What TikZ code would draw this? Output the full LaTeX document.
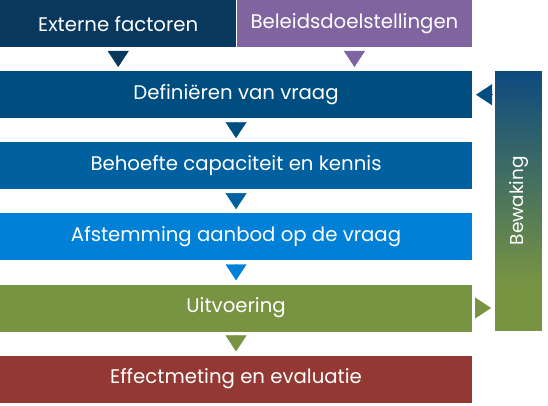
\documentclass[tikz,border=0pt]{standalone}
\usepackage{fontspec}
\setmainfont{Poppins}
\usetikzlibrary{positioning,arrows.meta}
\definecolor{navy}{HTML}{08385E}
\definecolor{paars}{HTML}{8064A0}
\definecolor{defblauw}{HTML}{004D80}
\definecolor{behblauw}{HTML}{0060A0}
\definecolor{afsblauw}{HTML}{0080D6}
\definecolor{groen}{HTML}{789442}
\definecolor{rood}{HTML}{933832}
\definecolor{bewblauw}{HTML}{0D4A80}
\pgfdeclareverticalshading{bewshade}{100bp}{color(0bp)=(groen); color(34bp)=(groen); color(75bp)=(bewblauw); color(100bp)=(bewblauw)}
\tikzset{
  box/.style={minimum width=471.7pt, minimum height=47pt, inner sep=0pt, text=white, font=\fontsize{19.7}{23}\selectfont},
  pijl/.style={-{Triangle[width=21pt,length=16pt]}, shorten <=3.5pt, shorten >=4pt}
}
\begin{document}
\begin{tikzpicture}[x=1pt,y=-1pt,node distance=23.7pt]
\useasboundingbox (0,0) rectangle (548,406);
% bovenste rij
\node[box, minimum width=236pt, fill=navy, anchor=north west] (ext) at (0,0) {Externe factoren};
\node[box, minimum width=235.7pt, fill=paars, right=0pt of ext] (bel) {Beleidsdoelstellingen};
% stappen
\node[box, fill=defblauw, anchor=north west] (def) at (0,71) {Definiëren van vraag};
\node[box, fill=behblauw, below=of def] (beh) {Behoefte capaciteit en kennis};
\node[box, fill=afsblauw, below=of beh] (afs) {Afstemming aanbod op de vraag};
\node[box, fill=groen, below=of afs] (uit) {Uitvoering};
\node[box, fill=rood, below=of uit] (eff) {Effectmeting en evaluatie};
% bewaking
\node[box, minimum width=46.7pt, minimum height=259pt, shade, shading=bewshade, anchor=north west, font=\fontsize{18.5}{22}\selectfont] (bew) at (495,71) {\rotatebox{90}{Bewaking}};
% pijlen
\draw[pijl, navy] (ext) -- (ext |- def.north);
\draw[pijl, paars] (bel) -- (bel |- def.north);
\foreach \a/\b/\c in {def/beh/defblauw, beh/afs/behblauw, afs/uit/afsblauw, uit/eff/groen}{
    \draw[pijl, \c] (\a) -- (\b);
}
\draw[pijl, defblauw] (bew.west |- def.east) -- (def.east);
\draw[pijl, groen] (uit.east) -- (uit.east -| bew.west);
\end{tikzpicture}
\end{document}
